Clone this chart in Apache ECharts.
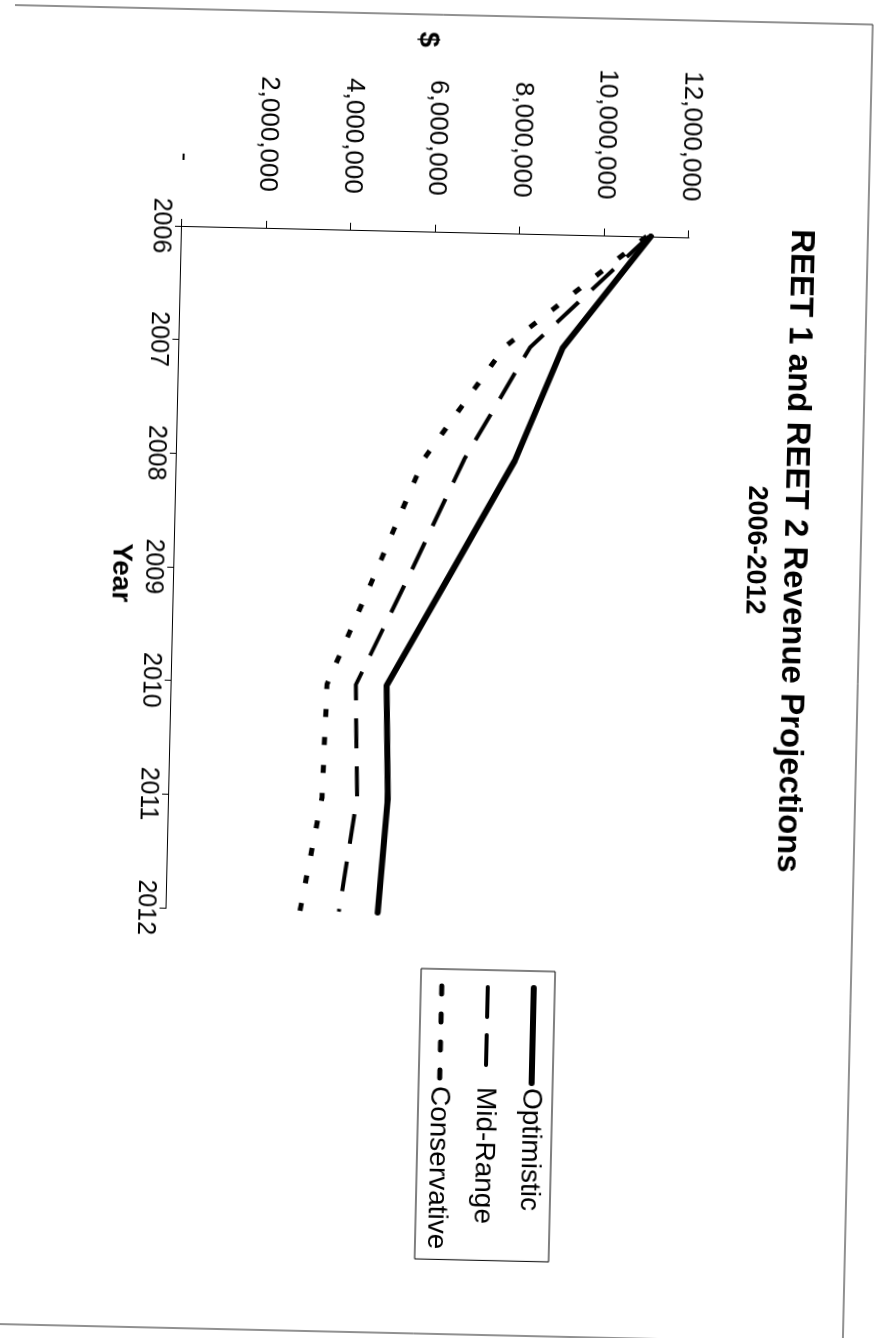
<!DOCTYPE html>
<html>
<head>
<meta charset="utf-8">
<script src="https://cdn.jsdelivr.net/npm/echarts@6/dist/echarts.min.js"></script>
<style>
  html, body { margin: 0; padding: 0; background: #fff; width: 890px; height: 1338px; overflow: hidden; }
  /* chart is laid out landscape, then turned onto the portrait page */
  #chart { position: absolute; left: -224px; top: 224px; width: 1338px; height: 890px;
           transform-origin: 50% 50%; transform: rotate(91.3deg); }
</style>
</head>
<body>
<div id="chart"></div>
<script>
// Projection years
const years = ['2006', '2007', '2008', '2009', '2010', '2011', '2012'];

// Revenue projections, dollars
const optimistic   = [11100000, 9070000, 8000000, 6550000, 5090000, 5180000, 5000000];
const midRange     = [11050000, 8300000, 6800000, 5600000, 4360000, 4450000, 4080000];
const conservative = [11000000, 7700000, 5850000, 4780000, 3680000, 3620000, 3160000];

// Value axis tick settings
const valueMax = 12000000;
const valueStep = 2000000;

const FONT = '"Liberation Sans", Arial, sans-serif';

const chart = echarts.init(document.getElementById('chart'), null, { renderer: 'canvas' });

chart.setOption({
  backgroundColor: '#fff',
  animation: false,
  textStyle: { fontFamily: FONT, color: '#000' },
  title: [
    {
      text: 'REET 1 and REET 2 Revenue Projections',
      left: 538, top: 77, textAlign: 'center',
      textStyle: { fontFamily: FONT, fontSize: 33, fontWeight: 'bold', color: '#000', lineHeight: 34 }
    },
    {
      text: '2006-2012',
      left: 538, top: 119, textAlign: 'center',
      textStyle: { fontFamily: FONT, fontSize: 27, fontWeight: 'bold', color: '#000', lineHeight: 28 }
    }
  ],
  graphic: [
    {
      type: 'rect',
      silent: true,
      shape: { x: 15, y: 32, width: 1319, height: 900 },
      style: { fill: 'none', stroke: '#222', lineWidth: 1 }
    },
    {
      // value axis unit
      type: 'text',
      silent: true,
      x: 40, y: 476,
      style: { text: '$', fontFamily: FONT, fontSize: 28, fontWeight: 'bold', fill: '#000', align: 'center', verticalAlign: 'middle' }
    }
  ],
  legend: {
    orient: 'vertical',
    left: 969,
    top: 328,
    padding: [7, 10, 7, 14],
    borderColor: '#000',
    borderWidth: 1,
    itemWidth: 95,
    itemHeight: 26,
    itemGap: 18,
    itemStyle: { opacity: 0 },
    lineStyle: { width: 'inherit', type: 'inherit', cap: 'round' },
    textStyle: { fontFamily: FONT, fontSize: 28, color: '#000' },
    data: ['Optimistic', 'Mid-Range', 'Conservative']
  },
  grid: { left: 232, top: 211, width: 682, height: 507, containLabel: false },
  xAxis: {
    type: 'category',
    data: years,
    boundaryGap: false,
    name: 'Year',
    nameLocation: 'middle',
    nameGap: 32,
    nameTextStyle: { fontFamily: FONT, fontSize: 28, fontWeight: 'bold', color: '#000', verticalAlign: 'top', padding: [0, 0, 0, 14] },
    axisLine: { lineStyle: { color: '#000', width: 1 } },
    axisTick: { show: true, alignWithLabel: true, length: 7, lineStyle: { color: '#000' } },
    axisLabel: { margin: 9, fontFamily: FONT, fontSize: 25, color: '#000' },
    splitLine: { show: false }
  },
  yAxis: {
    type: 'value',
    min: 0,
    max: valueMax,
    interval: valueStep,
    axisLine: { show: true, lineStyle: { color: '#000', width: 1 } },
    axisTick: { show: true, length: 7, lineStyle: { color: '#000' } },
    axisLabel: {
      margin: 36,
      fontFamily: FONT, fontSize: 26, color: '#000',
      formatter: v => v === 0 ? '-    ' : v.toLocaleString('en-US')
    },
    splitLine: { show: false }
  },
  series: [
    {
      name: 'Optimistic', type: 'line', data: optimistic,
      symbol: 'none', smooth: false,
      lineStyle: { color: '#000', width: 6, type: 'solid', cap: 'round', join: 'round' },
      itemStyle: { color: '#000' }
    },
    {
      name: 'Mid-Range', type: 'line', data: midRange,
      symbol: 'none', smooth: false,
      lineStyle: { color: '#000', width: 4, type: [30, 18] },
      itemStyle: { color: '#000' }
    },
    {
      name: 'Conservative', type: 'line', data: conservative,
      symbol: 'none', smooth: false,
      lineStyle: { color: '#000', width: 5, type: [8, 20] },
      itemStyle: { color: '#000' }
    }
  ]
});
</script>
</body>
</html>
